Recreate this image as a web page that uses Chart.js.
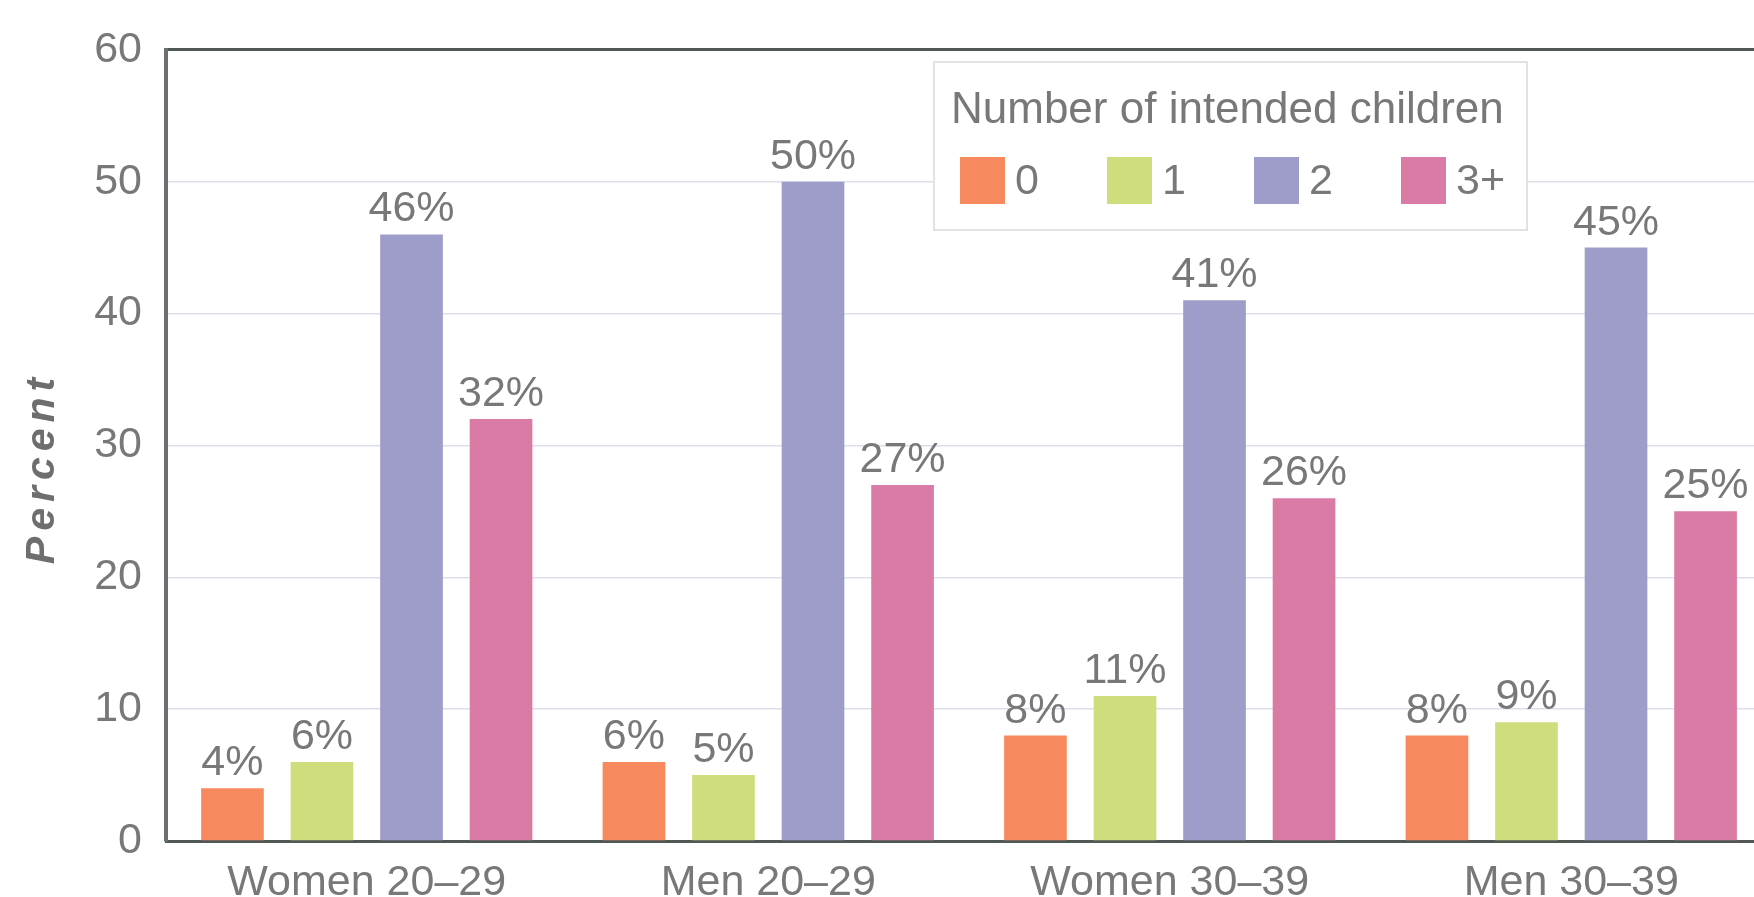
<!DOCTYPE html>
<html>
<head>
<meta charset="utf-8">
<script src="https://cdn.jsdelivr.net/npm/chart.js@4"></script>
<style>
  html, body { margin: 0; padding: 0; background: #fff; overflow: hidden; }
  #wrap { width: 1800px; height: 897px; }
</style>
</head>
<body>
<div id="wrap"><canvas id="barChart" width="1800" height="897"></canvas></div>
<script>
// groups along the x axis
const groups = ['Women 20\u201329', 'Men 20\u201329', 'Women 30\u201339', 'Men 30\u201339'];

// intended number of children, percent
const seriesNames = ['0', '1', '2', '3+'];
const zeroKids = [4, 6, 8, 8];
const oneKid = [6, 5, 11, 9];
const twoKids = [46, 50, 41, 45];
const threePlus = [32, 27, 26, 25];

const yTicks = [0, 10, 20, 30, 40, 50, 60];
const legendTitle = 'Number of intended children';
const yTitle = 'Percent';

const barColors = ['#f7895f', '#cfdd7d', '#9e9dc9', '#da7ba5'];
const textGray = '#787878';
const fontFamily = '"Liberation Sans", Arial, sans-serif';

// value labels on top of each bar
const valueLabels = {
    id: 'valueLabels',
    afterDatasetsDraw(chart) {
        const ctx = chart.ctx;
        ctx.save();
        ctx.font = '43px ' + fontFamily;
        ctx.fillStyle = textGray;
        ctx.textAlign = 'center';
        ctx.textBaseline = 'alphabetic';
        chart.data.datasets.forEach((ds, i) => {
            chart.getDatasetMeta(i).data.forEach((bar, j) => {
                ctx.fillText(ds.data[j] + '%', bar.x, bar.y - 13);
            });
        });
        ctx.restore();
    }
};

// boxed legend and rotated axis title
const extras = {
    id: 'extras',
    afterDraw(chart) {
        const ctx = chart.ctx;
        ctx.save();

        // y axis title
        ctx.translate(43, 468);
        ctx.rotate(-Math.PI / 2);
        ctx.font = 'italic bold 41px ' + fontFamily;
        ctx.letterSpacing = '6px';
        ctx.fillStyle = '#6e6e6e';
        ctx.textAlign = 'center';
        ctx.textBaseline = 'middle';
        ctx.fillText(yTitle, 0, 0);
        ctx.restore();

        // legend box
        ctx.save();
        ctx.fillStyle = '#ffffff';
        ctx.fillRect(934, 62, 593, 168);
        ctx.strokeStyle = '#e2e2e2';
        ctx.lineWidth = 2;
        ctx.strokeRect(934, 62, 593, 168);

        ctx.fillStyle = textGray;
        ctx.font = '44px ' + fontFamily;
        ctx.textAlign = 'left';
        ctx.textBaseline = 'alphabetic';
        ctx.fillText(legendTitle, 951, 123);

        ctx.font = '43px ' + fontFamily;
        chart.data.datasets.forEach((ds, i) => {
            const x = 960 + i * 147;
            ctx.fillStyle = ds.backgroundColor;
            ctx.fillRect(x, 157, 45, 47);
            ctx.fillStyle = textGray;
            ctx.fillText(ds.label, x + 55, 194);
        });
        ctx.restore();
    }
};

const ctx = document.getElementById('barChart').getContext('2d');

const barChart = new Chart(ctx, {
    type: 'bar',
    data: {
        labels: groups,
        datasets: [zeroKids, oneKid, twoKids, threePlus].map((vals, i) => ({
            label: seriesNames[i],
            data: vals,
            backgroundColor: barColors[i],
            barPercentage: 0.7,
            categoryPercentage: 0.892
        }))
    },
    options: {
        responsive: false,
        animation: false,
        layout: { padding: { top: 42, right: 28, left: 0, bottom: 0 } },
        plugins: {
            legend: { display: false },
            tooltip: { enabled: false }
        },
        scales: {
            x: {
                grid: { display: false },
                border: { display: true, color: '#4f5855', width: 3 },
                ticks: {
                    color: textGray,
                    font: { family: fontFamily, size: 43 },
                    padding: 8
                },
                afterFit: (scale) => { scale.height = 56; }
            },
            y: {
                min: 0,
                max: 60,
                afterBuildTicks: (scale) => {
                    scale.ticks = yTicks.map(v => ({ value: v }));
                },
                grid: {
                    drawTicks: false,
                    color: (c) => c.tick.value === 60 ? '#4f5855' : (c.tick.value === 0 ? 'rgba(0,0,0,0)' : '#dedeea'),
                    lineWidth: (c) => c.tick.value === 60 ? 3 : 1.5
                },
                border: { display: true, color: '#6e6e74', width: 4 },
                ticks: {
                    color: textGray,
                    font: { family: fontFamily, size: 43 },
                    padding: 24
                },
                afterFit: (scale) => { scale.width = 166; }
            }
        }
    },
    plugins: [valueLabels, extras]
});
</script>
</body>
</html>
